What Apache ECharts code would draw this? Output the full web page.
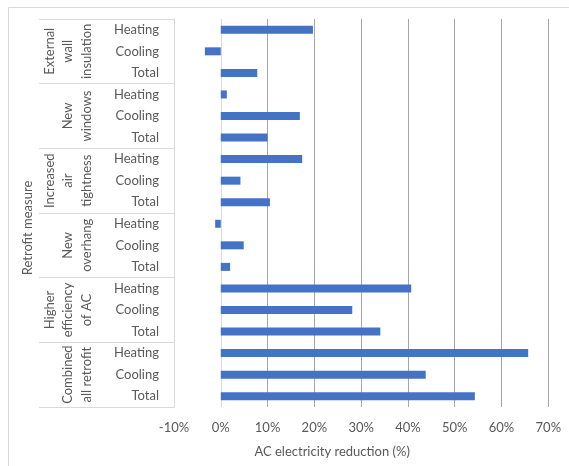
<!DOCTYPE html>
<html>
<head>
<meta charset="utf-8">
<script src="https://cdn.jsdelivr.net/npm/echarts@6/dist/echarts.min.js"></script>
<style>
  html, body { margin: 0; padding: 0; background: #fff; }
  #main { width: 569px; height: 466px; }
</style>
</head>
<body>
<div id="main"></div>
<script>
// groups of retrofit measures (top to bottom)
var groups = ['External\nwall\ninsulation', 'New\nwindows', 'Increased\nair\ntightness',
              'New\noverhang', 'Higher\nefficiency\nof AC', 'Combined\nall retrofit'];
var subs = ['Heating', 'Cooling', 'Total'];

// AC electricity reduction (%) per group
var heating = [19.7, 1.3, 17.4, -1.2, 40.7, 65.7];
var cooling = [-3.4, 16.9, 4.2, 4.9, 28.1, 43.8];
var total   = [7.8, 10.0, 10.5, 2.0, 34.1, 54.3];

var xTicks = [-10, 0, 10, 20, 30, 40, 50, 60, 70];

var cats = [];
var values = [];
for (var g = 0; g < groups.length; g++) {
    cats.push(subs[0], subs[1], subs[2]);
    values.push(heating[g], cooling[g], total[g]);
}

var font = 'Lato, "Open Sans", sans-serif';
var textCol = '#595959';

// 0% axis line lighter, the other gridlines darker (Excel look)
var gridCols = xTicks.map(function (t) {
    return t <= 0 ? '#d9d9d9' : '#a6a6a6';
});

var myChart = echarts.init(document.getElementById('main'));
var option = {
    animation: false,
    backgroundColor: '#fff',
    textStyle: { fontFamily: font },
    graphic: [{
        // chart area frame (only left and top edges are in view)
        type: 'polyline',
        z: -10,
        shape: { points: [[8.5, 480], [8.5, 7.5], [580, 7.5]] },
        style: { fill: 'none', stroke: '#d9d9d9', lineWidth: 1 }
    }, {
        type: 'rect',
        z: 100,
        shape: { x: 33, y: 12, width: 5.8, height: 400 },
        style: { fill: '#fff' }
    }, {
        type: 'text',
        x: 28,
        y: 228,
        rotation: Math.PI / 2,
        style: {
            text: 'Retrofit measure',
            fill: textCol,
            font: '13px ' + font,
            align: 'center',
            verticalAlign: 'middle'
        }
    }],
    grid: {
        left: 174,
        right: 20.7,
        top: 19,
        bottom: 59,
        containLabel: false,
        outerBoundsMode: 'none'
    },
    xAxis: {
        type: 'value',
        min: xTicks[0],
        max: xTicks[xTicks.length - 1],
        interval: 10,
        name: 'AC electricity reduction (%)',
        nameLocation: 'middle',
        nameGap: 38,
        nameMoveOverlap: false,
        nameTextStyle: { color: textCol, fontSize: 13, fontFamily: font, padding: [0, 58, 0, 0] },
        axisLine: { show: false },
        axisTick: { show: false },
        axisLabel: {
            color: textCol,
            fontSize: 13,
            fontFamily: font,
            margin: 14,
            formatter: function (v) { return v + '%'; }
        },
        splitLine: { show: true, lineStyle: { color: gridCols, width: 1 } }
    },
    yAxis: [{
        type: 'category',
        data: cats,
        inverse: true,
        position: 'left',
        axisLine: { show: false, onZero: false },
        axisTick: { show: false },
        splitLine: { show: false },
        axisLabel: {
            interval: 0,
            color: textCol,
            fontSize: 13,
            fontFamily: font,
            margin: 15
        }
    }, {
        type: 'category',
        data: groups,
        inverse: true,
        position: 'left',
        axisLine: { show: true, onZero: false, lineStyle: { color: '#d9d9d9' } },
        axisTick: { show: true, length: 135, interval: 0, lineStyle: { color: '#d9d9d9' } },
        splitLine: { show: false },
        axisLabel: {
            interval: 0,
            rotate: 90,
            color: textCol,
            fontSize: 13,
            fontFamily: font,
            lineHeight: 18.5,
            margin: 78
        }
    }],
    series: [{
        type: 'bar',
        yAxisIndex: 0,
        data: values,
        barWidth: 8,
        itemStyle: { color: '#4472C4' }
    }]
};
myChart.setOption(option);
</script>
</body>
</html>
